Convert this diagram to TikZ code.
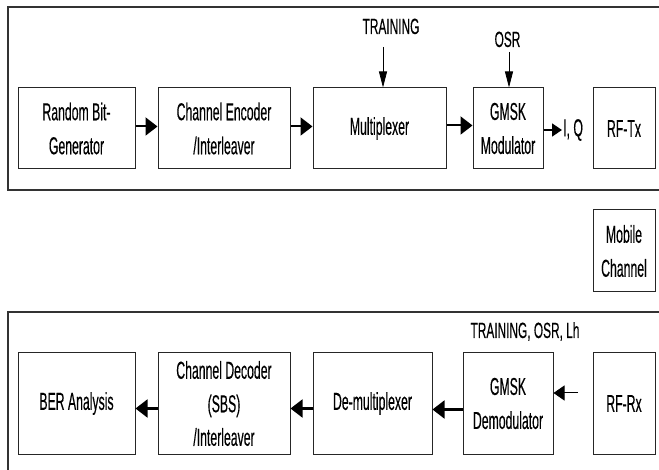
\documentclass[tikz,border=0pt]{standalone}
\usepackage{fontspec}
\setmainfont[FakeStretch=0.5,FakeBold=0.3]{Liberation Sans}
\newfontfamily\lblfont[FakeStretch=0.54,FakeBold=0.3]{Liberation Sans}
\usetikzlibrary{arrows.meta}

\tikzset{
  blk/.style={draw=black!85, line width=1pt, inner sep=0pt, align=center,
    font=\fontsize{24.5}{34}\selectfont},
  txt/.style={inner sep=1pt, font=\fontsize{24.5}{34}\selectfont},
  lbl/.style={inner sep=0pt, font=\lblfont\fontsize{22}{30}\selectfont},
  frame/.style={draw=black!80, line width=1.4pt},
  bigarrow/.style={-{Triangle[length=12pt,width=18pt]}, line width=2pt},
  midarrow/.style={-{Triangle[length=10pt,width=13pt]}, line width=1.5pt},
  vinput/.style={-{Triangle[length=16pt,width=8pt]}, line width=0.8pt},
  hinput/.style={-{Triangle[length=11pt,width=15pt]}, line width=1pt},
}

\begin{document}
\begin{tikzpicture}[x=1pt,y=-1pt]
\useasboundingbox (0,0) rectangle (659,470);

% transmitter and receiver enclosures
\draw[frame] (659,7) -- (8,7) -- (8,190) -- (659,190);
\draw[frame] (659,312) -- (8,312) -- (8,470);

% transmitter chain
\node[blk, minimum width=117pt, minimum height=81pt] (rbg)  at (76.5,128.5) {Random Bit-\\Generator};
\node[blk, minimum width=132pt, minimum height=81pt] (enc)  at (224,128.5)  {Channel Encoder\\/Interleaver};
\node[blk, minimum width=133pt, minimum height=81pt] (mux)  at (379.5,128.5) {Multiplexer};
\node[blk, minimum width=70pt,  minimum height=81pt] (mod)  at (508,128.5)  {GMSK\\Modulator};
\node[blk, minimum width=62pt,  minimum height=81pt] (rftx) at (624,128.5)  {RF-Tx};

% channel
\node[blk, minimum width=62pt, minimum height=82pt] (mob) at (624,251) {Mobile\\Channel};

% receiver chain
\node[blk, minimum width=117pt, minimum height=101pt] (ber)   at (76.5,403.5) {BER Analysis};
\node[blk, minimum width=132pt, minimum height=101pt, font=\fontsize{24.5}{33.5}\selectfont] (dec) at (224,403.5) {Channel Decoder\\(SBS)\\/Interleaver};
\node[blk, minimum width=119pt, minimum height=101pt] (demux) at (372.5,403.5) {De-multiplexer};
\node[blk, minimum width=90pt,  minimum height=101pt] (demod) at (508,403.5) {GMSK\\Demodulator};
\node[blk, minimum width=62pt,  minimum height=101pt] (rfrx)  at (624,403.5) {RF-Rx};

% labels
\node[lbl, anchor=base] (trn) at (391,34) {TRAINING};
\node[lbl, anchor=base] (osr) at (507.5,47) {OSR};
\node[lbl, anchor=base] (rxpar) at (525,338) {TRAINING, OSR, Lh};
\node[txt, anchor=west] (iq) at (562,130) {I, Q};

% transmitter arrows
\draw[bigarrow] ([yshift=2pt]rbg.east) -- ([yshift=2pt]enc.west);
\draw[bigarrow] ([yshift=2pt]enc.east) -- ([yshift=2pt]mux.west);
\draw[bigarrow] ([yshift=3pt]mux.east) -- ([yshift=3pt]mod.west);
\draw[midarrow] (mod.east |- iq.west) -- (iq.west);

\coordinate (trnin) at (383,47);
\coordinate (osrin) at (509,52);
\draw[vinput] (trnin) -- (trnin |- mux.north);
\draw[vinput] (osrin) -- (osrin |- mod.north);

% receiver arrows
\draw[bigarrow] ([yshift=-5pt]dec.west) -- ([yshift=-5pt]ber.east);
\draw[bigarrow] ([yshift=-5pt]demux.west) -- ([yshift=-5pt]dec.east);
\draw[bigarrow] ([yshift=-6pt]demod.west) -- ([yshift=-6pt]demux.east);
\coordinate (rxout) at (578,393);
\draw[hinput] (rxout) -- (rxout -| demod.east);
\end{tikzpicture}
\end{document}
